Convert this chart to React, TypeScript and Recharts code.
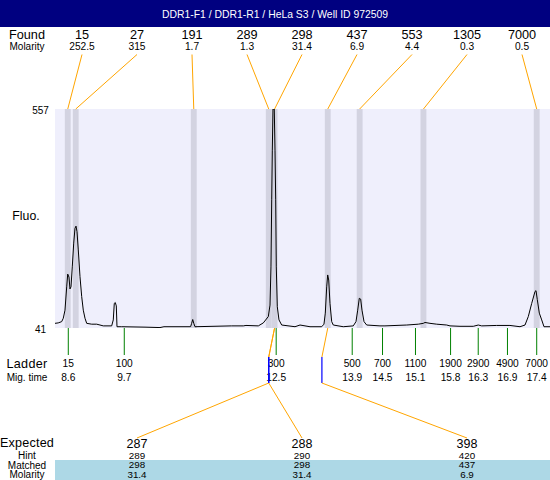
import React from 'react';
import { ComposedChart, Line, XAxis, YAxis, ReferenceArea, ReferenceLine } from 'recharts';

// ---- Electropherogram trace (migration time s, fluorescence) ----
const traceTime = [
  8.35, 8.41, 8.476, 8.506, 8.538, 8.57, 8.589, 8.613, 8.632, 8.651,
  8.675, 8.702, 8.726, 8.745, 8.764, 8.788, 8.82, 8.852, 8.882, 8.914,
  8.946, 9.04, 9.134, 9.196, 9.258, 9.416, 9.446, 9.465, 9.484, 9.503,
  9.516, 9.604, 10.043, 10.325, 10.4, 10.9, 10.92, 10.94, 10.96, 10.983,
  11.673, 11.891, 11.942, 12.174, 12.268, 12.362, 12.394, 12.412, 12.426, 12.437,
  12.45, 12.474, 12.488, 12.501, 12.512, 12.531, 12.563, 12.614, 12.864, 12.958,
  13.146, 13.366, 13.409, 13.434, 13.46, 13.479, 13.498, 13.522, 13.554, 13.584,
  13.772, 13.96, 14.011, 14.043, 14.073, 14.099, 14.124, 14.162, 14.212, 14.462,
  14.556, 14.965, 15.183, 15.277, 15.309, 15.403, 15.529, 15.717, 15.779, 15.967,
  16.217, 16.311, 16.375, 16.657, 16.907, 17.096, 17.19, 17.252, 17.316, 17.378,
  17.397, 17.421, 17.459, 17.504, 17.547, 17.66,
];
const traceFluo = [
  52, 53, 56, 64, 83, 138, 168, 161, 133, 138,
  185, 241, 276, 281, 268, 225, 162, 115, 83, 64,
  52, 50, 50, 48, 46, 46, 60, 99, 101, 93,
  44, 44, 43, 42, 44, 44, 52, 61, 52, 44,
  46, 46, 47, 46, 53, 68, 95, 185, 343, 460,
  557, 557, 460, 343, 185, 91, 60, 48, 44, 48,
  44, 44, 50, 76, 138, 166, 154, 99, 56, 48,
  44, 46, 56, 83, 111, 109, 83, 56, 48, 46,
  46, 48, 50, 52, 54, 52, 50, 48, 46, 45,
  45, 48, 46, 47, 47, 44, 48, 68, 99, 127,
  129, 108, 76, 60, 44, 44,
];

// ---- Found peaks ----
const foundSize = [15, 27, 191, 289, 298, 437, 553, 1305, 7000];
const foundMolarity = [252.5, 315, 1.7, 1.3, 31.4, 6.9, 4.4, 0.3, 0.5];
const foundTime = [8.59, 8.74, 10.96, 12.37, 12.48, 13.48, 14.08, 15.28, 17.41];

// ---- Ladder ----
const ladderSize = [15, 100, 300, 500, 700, 1100, 1900, 2900, 4900, 7000];
const ladderTime = [8.6, 9.653, 12.51, 13.94, 14.51, 15.13, 15.79, 16.31, 16.86, 17.41];

// ---- Expected fragments ----
const expectedSize = [287, 288, 398];
const hintSize = [289, 290, 420];
const matchedSize = [298, 298, 437];
const matchedMolarity = [31.4, 31.4, 6.9];
const expectedTime = [12.37, 12.37, 13.37];
const expectedSlot = [1, 4, 7];

const yTicks = [41, 557];
const xDomain = [8.35, 17.66];
const yDomain = [41, 557];

const data = traceTime.map((t, i) => ({ t, fluo: traceFluo[i] }));
const matchedTime = matchedSize.map((s) => foundTime[foundSize.indexOf(s)]);

const FONT = '"Liberation Sans", Arial, Helvetica, sans-serif';
const ORANGE = '#FFA500';
const slotX = (i: number) => 82 + 55 * i;

const T = (props: any) => (
  <text fontFamily={FONT} fill="#000" textAnchor="middle" {...props} />
);

export default function App() {
  return (
    <div style={{ position: 'absolute', left: 0, top: 0, width: 550, height: 480, background: '#fff', overflow: 'hidden' }}>
      <svg width={550} height={480} style={{ position: 'absolute', left: 0, top: 0 }}>
        <rect x={0} y={0} width={550} height={27} fill="#000080" />
        <text x={275} y={17.7} textAnchor="middle" fill="#fff" fontFamily={FONT} fontSize={10.4}>
          DDR1-F1 / DDR1-R1 / HeLa S3 / Well ID 972509
        </text>
        <T x={27} y={39} fontSize={12.7}>Found</T>
        <T x={27} y={50.3} fontSize={10}>Molarity</T>
        <T x={26} y={219.5} fontSize={12.3}>Fluo.</T>
        <T x={27} y={367.8} fontSize={12.6} letterSpacing={0.3}>Ladder</T>
        <T x={27} y={381} fontSize={10}>Mig. time</T>
        <rect x={55} y={460} width={495} height={20} fill="#ADD8E6" />
        <T x={27} y={447.3} fontSize={12.6} letterSpacing={0.2}>Expected</T>
        <T x={27} y={458.8} fontSize={10}>Hint</T>
        <T x={27} y={468.6} fontSize={10}>Matched</T>
        <T x={27} y={478.4} fontSize={10}>Molarity</T>
      </svg>
      <div style={{ position: 'absolute', left: 0, top: 0 }}>
        <ComposedChart
          width={550}
          height={480}
          data={data}
          margin={{ top: 109, right: 0, bottom: 152, left: 0 }}
        >
          <XAxis dataKey="t" type="number" domain={xDomain} hide allowDataOverflow />
          <YAxis
            type="number"
            domain={yDomain}
            ticks={yTicks}
            width={55}
            axisLine={false}
            tickLine={false}
            allowDataOverflow
            interval={0}
            tick={(p: any) => (
              <text x={40.5} y={p.y + 5.3} textAnchor="middle" fontFamily={FONT} fontSize={10} fill="#000">
                {p.payload.value}
              </text>
            )}
          />
          <ReferenceArea x1={xDomain[0]} x2={xDomain[1]} y1={yDomain[0]} y2={yDomain[1]} fill="#EFEFFC" fillOpacity={1} stroke="none" />
          {foundTime.map((t, i) => (
            <ReferenceArea
              key={'band' + i}
              x1={t - 0.055}
              x2={t + 0.055}
              y1={yDomain[0]}
              y2={yDomain[1]}
              fill="#D3D3E1"
              fillOpacity={1}
              stroke="none"
            />
          ))}
          <Line
            dataKey="fluo"
            type="linear"
            stroke="#000"
            strokeWidth={1}
            dot={false}
            activeDot={false}
            isAnimationActive={false}
          />
          {foundTime.map((t, i) => (
            <ReferenceLine
              key={'found' + i}
              x={t}
              ifOverflow="visible"
              shape={(p: any) => {
                const top = Math.min(p.y1, p.y2);
                const sx = slotX(i);
                return (
                  <g>
                    <line x1={sx} y1={top - 54.5} x2={p.x1} y2={top} stroke={ORANGE} strokeWidth={1} />
                    <T x={sx} y={top - 70} fontSize={12.7}>{foundSize[i]}</T>
                    <T x={sx} y={top - 58.7} fontSize={10.2}>{foundMolarity[i]}</T>
                  </g>
                );
              }}
            />
          ))}
          {ladderTime.map((t, i) => (
            <ReferenceLine
              key={'ladder' + i}
              x={t}
              ifOverflow="visible"
              shape={(p: any) => {
                const bottom = Math.max(p.y1, p.y2);
                return (
                  <g>
                    <line x1={p.x1} y1={bottom} x2={p.x1} y2={bottom + 27} stroke="#008000" strokeWidth={1} />
                    <T x={p.x1} y={bottom + 39} fontSize={10.2}>{ladderSize[i]}</T>
                    <T x={p.x1} y={bottom + 53} fontSize={10.2}>{t.toFixed(1)}</T>
                  </g>
                );
              }}
            />
          ))}
          {expectedSize.map((s, i) => (
            <ReferenceLine
              key={'exp' + i}
              segment={[
                { x: matchedTime[i], y: yDomain[0] },
                { x: expectedTime[i], y: yDomain[0] },
              ]}
              ifOverflow="visible"
              shape={(p: any) => {
                const bottom = p.y1;
                const sx = slotX(expectedSlot[i]);
                return (
                  <g>
                    <line x1={p.x1} y1={bottom} x2={p.x2} y2={bottom + 29} stroke={ORANGE} strokeWidth={1} />
                    <line x1={p.x2} y1={bottom + 29} x2={p.x2} y2={bottom + 55} stroke="#0000FF" strokeWidth={1.2} />
                    <line x1={p.x2} y1={bottom + 55} x2={sx} y2={bottom + 110} stroke={ORANGE} strokeWidth={1} />
                    <T x={sx} y={bottom + 119.5} fontSize={12.5}>{s}</T>
                    <T x={sx} y={bottom + 130.6} fontSize={9.8}>{hintSize[i]}</T>
                    <T x={sx} y={bottom + 140.4} fontSize={9.8}>{matchedSize[i]}</T>
                    <T x={sx} y={bottom + 150.2} fontSize={9.8}>{matchedMolarity[i]}</T>
                  </g>
                );
              }}
            />
          ))}
        </ComposedChart>
      </div>
    </div>
  );
}
